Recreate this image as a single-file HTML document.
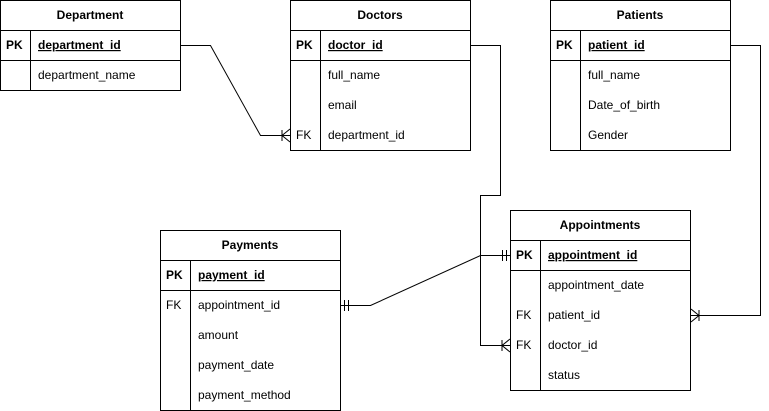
<!DOCTYPE html>
<html><head><meta charset="utf-8"><style>
html,body{margin:0;padding:0;background:#fff;}
svg{display:block;font-family:"Liberation Sans",Arial,sans-serif;font-size:12px;}
</style></head><body>
<svg width="769" height="411" viewBox="0 0 769 411" xmlns="http://www.w3.org/2000/svg">
<g fill="none" stroke="#000" stroke-width="1">
<rect x="0.5" y="0.5" width="180" height="90"/>
<line x1="0.5" y1="30.5" x2="180.5" y2="30.5"/>
<line x1="0.5" y1="60.5" x2="180.5" y2="60.5"/>
<line x1="30.5" y1="30.5" x2="30.5" y2="90.5"/>
<rect x="290.5" y="0.5" width="180" height="150"/>
<line x1="290.5" y1="30.5" x2="470.5" y2="30.5"/>
<line x1="290.5" y1="60.5" x2="470.5" y2="60.5"/>
<line x1="320.5" y1="30.5" x2="320.5" y2="150.5"/>
<rect x="550.5" y="0.5" width="180" height="150"/>
<line x1="550.5" y1="30.5" x2="730.5" y2="30.5"/>
<line x1="550.5" y1="60.5" x2="730.5" y2="60.5"/>
<line x1="580.5" y1="30.5" x2="580.5" y2="150.5"/>
<rect x="510.5" y="210.5" width="180" height="180"/>
<line x1="510.5" y1="240.5" x2="690.5" y2="240.5"/>
<line x1="510.5" y1="270.5" x2="690.5" y2="270.5"/>
<line x1="540.5" y1="240.5" x2="540.5" y2="390.5"/>
<rect x="160.5" y="230.5" width="180" height="180"/>
<line x1="160.5" y1="260.5" x2="340.5" y2="260.5"/>
<line x1="160.5" y1="290.5" x2="340.5" y2="290.5"/>
<line x1="190.5" y1="260.5" x2="190.5" y2="410.5"/>
<polyline points="180.5,45.5 210.5,45.5 260.5,135.5 290.5,135.5"/>
<line x1="282" y1="130" x2="282" y2="141"/>
<polyline points="290,129 282,135.5 290,142"/>
<polyline points="470.5,45.5 500.5,45.5 500.5,195.5 480.5,195.5 480.5,345.5 510.5,345.5"/>
<line x1="502" y1="340" x2="502" y2="351"/>
<polyline points="510,339 502,345.5 510,352"/>
<polyline points="730.5,45.5 760.5,45.5 760.5,315.5 690.5,315.5"/>
<line x1="699" y1="310" x2="699" y2="321"/>
<polyline points="691,309 699,315.5 691,322"/>
<polyline points="340.5,305.5 370.5,305.5 480.5,255.5 510.5,255.5"/>
<line x1="344.5" y1="300" x2="344.5" y2="311"/>
<line x1="348.5" y1="300" x2="348.5" y2="311"/>
<line x1="502.5" y1="250" x2="502.5" y2="261"/>
<line x1="506.5" y1="250" x2="506.5" y2="261"/>
</g>
<g fill="#000">
<text x="90" y="19" text-anchor="middle" font-weight="bold">Department</text>
<text x="6" y="49" font-weight="bold">PK</text>
<text x="38" y="49" font-weight="bold" text-decoration="underline">department_id</text>
<text x="38" y="79">department_name</text>

<text x="380" y="19" text-anchor="middle" font-weight="bold">Doctors</text>
<text x="296" y="49" font-weight="bold">PK</text>
<text x="328" y="49" font-weight="bold" text-decoration="underline">doctor_id</text>
<text x="328" y="79">full_name</text>
<text x="328" y="109">email</text>
<text x="296" y="139">FK</text>
<text x="328" y="139">department_id</text>

<text x="640" y="19" text-anchor="middle" font-weight="bold">Patients</text>
<text x="556" y="49" font-weight="bold">PK</text>
<text x="588" y="49" font-weight="bold" text-decoration="underline">patient_id</text>
<text x="588" y="79">full_name</text>
<text x="588" y="109">Date_of_birth</text>
<text x="588" y="139">Gender</text>

<text x="600" y="229" text-anchor="middle" font-weight="bold">Appointments</text>
<text x="516" y="259" font-weight="bold">PK</text>
<text x="548" y="259" font-weight="bold" text-decoration="underline">appointment_id</text>
<text x="548" y="289">appointment_date</text>
<text x="516" y="319">FK</text>
<text x="548" y="319">patient_id</text>
<text x="516" y="349">FK</text>
<text x="548" y="349">doctor_id</text>
<text x="548" y="379">status</text>

<text x="250" y="249" text-anchor="middle" font-weight="bold">Payments</text>
<text x="166" y="279" font-weight="bold">PK</text>
<text x="198" y="279" font-weight="bold" text-decoration="underline">payment_id</text>
<text x="166" y="309">FK</text>
<text x="198" y="309">appointment_id</text>
<text x="198" y="339">amount</text>
<text x="198" y="369">payment_date</text>
<text x="198" y="399">payment_method</text>
</g>
</svg>
</body></html>
